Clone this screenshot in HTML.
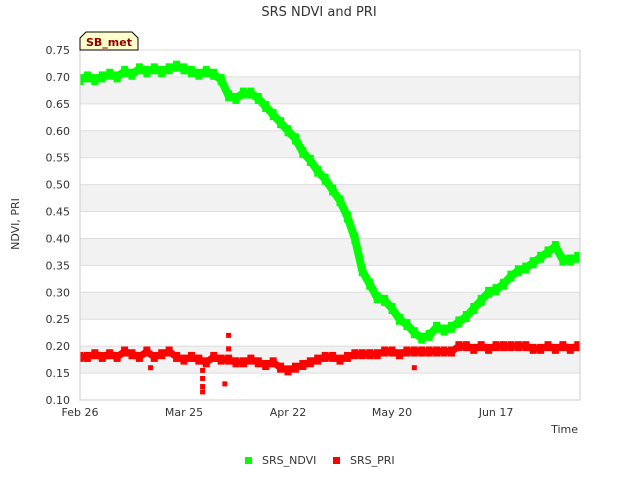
<!DOCTYPE html>
<html><head><meta charset="utf-8"><style>
body{margin:0;background:#fff;font-family:"Liberation Sans","DejaVu Sans",sans-serif;}
svg text{font-family:"DejaVu Sans","Liberation Sans",sans-serif;}
</style></head><body>
<svg id="chart" width="640" height="480" xmlns="http://www.w3.org/2000/svg">
<defs><clipPath id="pc"><rect x="80" y="40" width="500" height="360"/></clipPath></defs>
<text x="319" y="16" text-anchor="middle" font-size="13" fill="#333">SRS NDVI and PRI</text>
<g id="bands"></g><g id="grid"></g><g id="marks" clip-path="url(#pc)"></g><g id="axes"></g>
<text transform="translate(19,224) rotate(-90)" text-anchor="middle" font-size="11" fill="#333">NDVI, PRI</text>
<text x="578" y="433" text-anchor="end" font-size="11" fill="#333">Time</text>
<g>
<path d="M80,50 L80,38 L86,32 L132,32 L138,38 L138,50 Z" fill="#ffffcc" stroke="#000" stroke-width="1"/>
<text x="109" y="46" text-anchor="middle" font-size="11" font-weight="bold" fill="#8b0000">SB_met</text></g>
<g>
<g><rect x="245" y="457" width="7" height="7" fill="#00ff00"/><text x="262" y="464" font-size="11" fill="#333">SRS_NDVI</text></g>
<g><rect x="333" y="457" width="7" height="7" fill="#ff0000"/><text x="350" y="464" font-size="11" fill="#333">SRS_PRI</text></g>
</g>
</svg>
<script>
const days=[0,2,4,6,8,10,12,14,16,18,20,22,24,26,28,30,32,34,36,38,40,42,44,46,48,50,52,54,56,58,60,62,64,66,68,70,72,74,76,78,80,82,84,86,88,90,92,94,96,98,100,102,104,106,108,110,112,114,116,118,120,122,124,126,128,130,132,134];
const ndvi=[0.695,0.70,0.695,0.70,0.705,0.70,0.71,0.705,0.715,0.71,0.715,0.71,0.715,0.72,0.715,0.71,0.705,0.71,0.705,0.695,0.665,0.66,0.67,0.67,0.66,0.645,0.63,0.615,0.60,0.585,0.56,0.545,0.525,0.51,0.49,0.47,0.44,0.40,0.34,0.315,0.29,0.285,0.27,0.25,0.24,0.225,0.215,0.22,0.235,0.23,0.235,0.245,0.255,0.27,0.285,0.30,0.305,0.315,0.33,0.34,0.345,0.355,0.365,0.375,0.385,0.36,0.36,0.365];
const pri=[0.18,0.18,0.185,0.18,0.185,0.18,0.19,0.185,0.18,0.19,0.18,0.185,0.19,0.18,0.175,0.18,0.175,0.17,0.18,0.175,0.175,0.17,0.17,0.175,0.17,0.165,0.17,0.16,0.155,0.16,0.165,0.17,0.175,0.18,0.18,0.175,0.18,0.185,0.185,0.185,0.185,0.19,0.19,0.185,0.19,0.19,0.19,0.19,0.19,0.19,0.19,0.2,0.2,0.195,0.2,0.195,0.2,0.2,0.2,0.2,0.2,0.195,0.195,0.2,0.195,0.2,0.195,0.2];
const priOutDays=[19,33,33,33,33,39,40,40,90];
const priOutVals=[0.16,0.115,0.125,0.14,0.155,0.13,0.22,0.195,0.16];
const yTicks=[0.10,0.15,0.20,0.25,0.30,0.35,0.40,0.45,0.50,0.55,0.60,0.65,0.70,0.75];
const xTickDays=[0,28,56,84,112];
const xTickLabels=["Feb 26","Mar 25","Apr 22","May 20","Jun 17"];
const X0=80,X1=580,Y0=400,Y1=50,DMAX=134.6;
const xs=d=>X0+d/DMAX*(X1-X0);
const ys=v=>Y0-(v-0.10)/0.65*(Y0-Y1);
const NS="http://www.w3.org/2000/svg";
function mk(parent,tag,attrs){const e=document.createElementNS(NS,tag);for(const k in attrs)e.setAttribute(k,attrs[k]);document.getElementById(parent).appendChild(e);return e;}
for(let i=0;i<yTicks.length-1;i++){
  if(i%2===1){const b=mk('bands','rect',{x:X0,y:ys(yTicks[i+1]),width:X1-X0,height:ys(yTicks[i])-ys(yTicks[i+1]),fill:'#f2f2f2'});
  
  }
}
yTicks.forEach(v=>{const l=mk('grid','line',{x1:X0,x2:X1,y1:ys(v),y2:ys(v),stroke:'#ddd','stroke-width':1});


const t=mk('axes','text',{x:X0-10,y:ys(v)+4,'text-anchor':'end','font-size':11,fill:'#333'});t.textContent=v.toFixed(2);

});
const ax=mk('axes','path',{d:`M${X0},${Y1}V${Y0}H${X1}V${Y1}`,fill:'none',stroke:'#ccc'});


xTickDays.forEach((d,i)=>{const t=mk('axes','text',{x:xs(d),y:416,'text-anchor':'middle','font-size':11,fill:'#333'});t.textContent=xTickLabels[i];

});
const ndviLine=mk('marks','polyline',{points:days.map((d,i)=>xs(d)+','+ys(ndvi[i])).join(' '),fill:'none',stroke:'#00ff00','stroke-width':8,'stroke-linejoin':'round'});


const priLine=mk('marks','polyline',{points:days.map((d,i)=>xs(d)+','+ys(pri[i])).join(' '),fill:'none',stroke:'#ff0000','stroke-width':7,'stroke-linejoin':'round'});


function pt(d,v,c,w,h){const r=mk('marks','rect',{x:xs(d)-w/2,y:ys(v)-h/2,width:w,height:h,fill:c});return r;}
days.forEach((d,i)=>{
  if(ndvi[i]!==undefined){const r=pt(d,ndvi[i],'#00ff00',7,11);
  
  }
  if(pri[i]!==undefined){const r=pt(d,pri[i],'#ff0000',7,10);
  
  }
});
priOutDays.forEach((d,i)=>{const r=pt(d,priOutVals[i],'#ff0000',5,5);

});
</script>
</body></html>
